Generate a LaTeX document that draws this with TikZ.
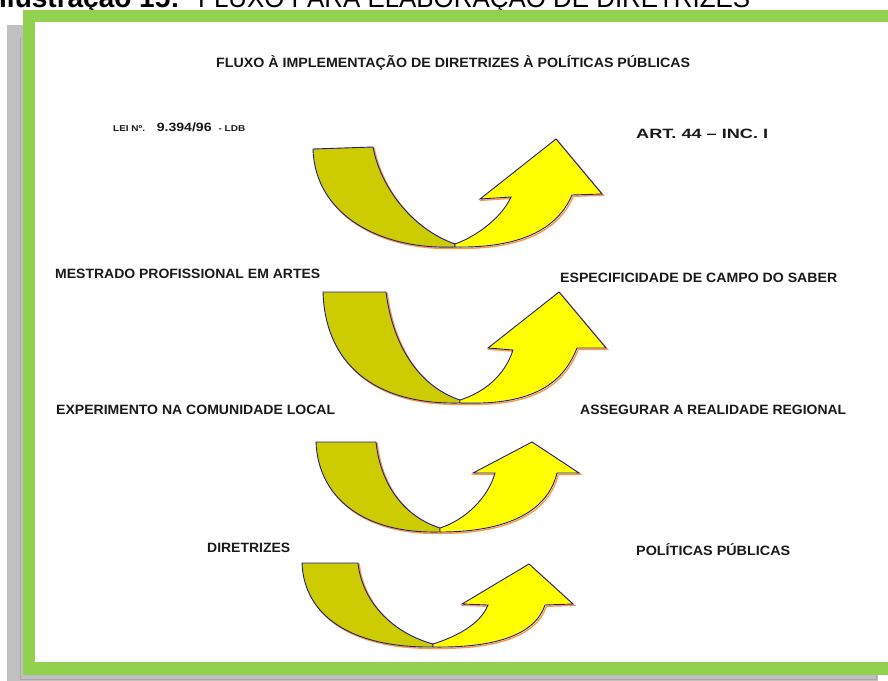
\documentclass[tikz,border=0pt]{standalone}
\usepackage{fontspec}
\setmainfont{Liberation Sans}
\usepackage{graphicx}
\definecolor{frgreen}{HTML}{92D050}
\definecolor{frgray}{HTML}{C0C0C0}
\definecolor{frgrayline}{HTML}{A8A8A8}
\definecolor{arrdark}{HTML}{CCCC00}
\definecolor{arryellow}{HTML}{FFFF00}
\definecolor{arrline}{HTML}{1E1E8C}
\definecolor{arrshadow}{HTML}{FF9A3C}
\definecolor{txt}{HTML}{1A1A1A}
\newcommand\fitto[2]{\resizebox{#1}{\height}{#2}}
\tikzset{
  lbl/.style={font=\bfseries\fontsize{13.5}{13.5}\selectfont, text=txt, inner sep=0pt, anchor=base west},
  darkband/.style={fill=arrdark, draw=arrline, line width=0.9pt, line join=round},
  yelband/.style={fill=arryellow, draw=arrline, line width=0.9pt, line join=miter},
  arrshade/.style={draw=arrshadow, line width=1.4pt, shift={(1.3,1.3)}},
}
% arrow 1
\def\darkA{(313,149) -- (373,147) .. controls (380,185) and (410,228) .. (455,244) -- (455,247) .. controls (380,250) and (315,215) .. (313,149) -- cycle}
\def\yelA{(455,244) .. controls (480,235) and (503,215) .. (511,197) -- (480,199) -- (556,139) -- (602,194) -- (572,195) .. controls (555,235) and (510,248) .. (455,247) -- cycle}
% arrow 2
\def\darkB{(323,292) -- (386,292) .. controls (392,340) and (415,385) .. (460,400) -- (460,403) .. controls (370,405) and (325,360) .. (323,292) -- cycle}
\def\yelB{(460,400) .. controls (485,392) and (505,375) .. (513,350) -- (488,348) -- (559,292) -- (606,348) -- (577,348) .. controls (560,392) and (520,405) .. (460,403) -- cycle}
% arrow 3
\def\darkC{(316,442) -- (376,442) .. controls (380,480) and (400,515) .. (440,528) -- (440,532) .. controls (360,534) and (318,495) .. (316,442) -- cycle}
\def\yelC{(440,528) .. controls (465,520) and (488,498) .. (495,473) -- (473,473) -- (532,442) -- (579,473) -- (557,473) .. controls (548,510) and (510,532) .. (440,532) -- cycle}
% arrow 4
\def\darkD{(302,563) -- (358,563) .. controls (362,600) and (390,632) .. (433,644) -- (433,647) .. controls (350,648) and (304,615) .. (302,563) -- cycle}
\def\yelD{(433,644) .. controls (455,637) and (480,625) .. (488,605) -- (462,604) -- (529,564) -- (573,604) -- (545,605) .. controls (535,635) and (495,648) .. (433,647) -- cycle}
\begin{document}
\begin{tikzpicture}[x=1pt,y=-1pt]
\useasboundingbox (0,0) rectangle (888,680);
\clip (0,0) rectangle (888,680);
\fill[white] (0,0) rectangle (888,680);
% caption (cut by the top edge, as in the reference)
\node[anchor=base west, inner sep=0pt, font=\bfseries\fontsize{28}{28}\selectfont] (caplbl) at (-1,7) {Ilustração 15:};
\node[anchor=base west, inner sep=0pt, font=\fontsize{27}{27}\selectfont] (captxt) at (198,7) {\fitto{552pt}{FLUXO PARA ELABORAÇÃO DE DIRETRIZES}};
% frames
\fill[frgray] (7,25) rectangle (878,690);
\draw[frgrayline, line width=0.8pt] (20,37) -- (20,679) -- (876,679) -- (876,670);
\fill[frgreen] (23,10) rectangle (900,675);
\fill[white] (35,22) rectangle (895,662);
% arrows
\foreach \p/\q in {\darkA/\yelA,\darkB/\yelB,\darkC/\yelC,\darkD/\yelD}{
  \draw[arrshade] \p;
  \draw[arrshade] \q;
  \draw[darkband] \p;
  \draw[yelband] \q;
}
% labels
\node[lbl] (title) at (216,67.5) {\fitto{474pt}{FLUXO À IMPLEMENTAÇÃO DE DIRETRIZES À POLÍTICAS PÚBLICAS}};
\node[lbl] (lei) at (113,131) {\fitto{132pt}{{\fontsize{8.5}{9}\selectfont LEI Nº.}\hspace{10pt}{\fontsize{12}{12}\selectfont 9.394/96}\hspace{6pt}{\fontsize{8.5}{9}\selectfont - LDB}}};
\node[lbl] (art) at (636,138) {\fitto{132pt}{ART. 44 – INC. I}};
\node[lbl] (mestrado) at (55,278) {\fitto{265pt}{MESTRADO PROFISSIONAL EM ARTES}};
\node[lbl] (especif) at (560,282) {\fitto{277pt}{ESPECIFICIDADE DE CAMPO DO SABER}};
\node[lbl] (experim) at (56,414) {\fitto{279pt}{EXPERIMENTO NA COMUNIDADE LOCAL}};
\node[lbl] (assegur) at (580,414) {\fitto{266pt}{ASSEGURAR A REALIDADE REGIONAL}};
\node[lbl] (diretr) at (207,552) {\fitto{83pt}{DIRETRIZES}};
\node[lbl] (politic) at (636,555) {\fitto{154pt}{POLÍTICAS PÚBLICAS}};
\end{tikzpicture}
\end{document}
